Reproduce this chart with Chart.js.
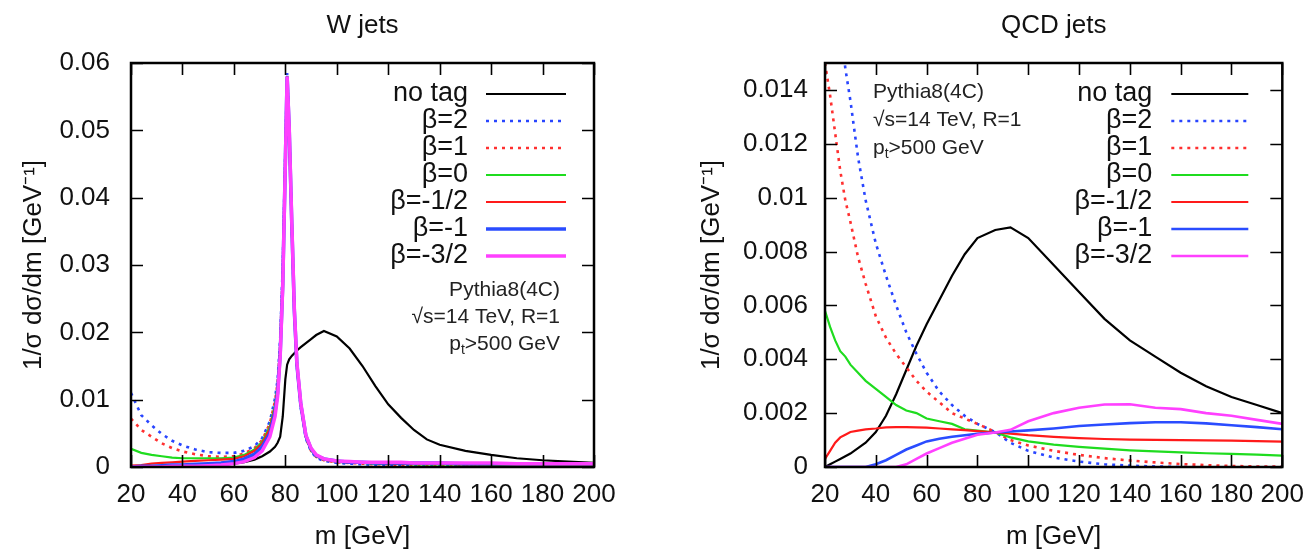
<!DOCTYPE html>
<html>
<head>
<meta charset="utf-8">
<script src="https://cdn.jsdelivr.net/npm/chart.js@4.4.1/dist/chart.umd.min.js"></script>
<style>
	body { margin: 0; background: #fff; width: 1316px; height: 551px; overflow: hidden; position: relative; }
	.box { position: absolute; top: 0; height: 551px; }
	#wbox { left: 0; width: 640px; }
	#qbox { left: 660px; width: 656px; }
</style>
</head>
<body>
<div class="box" id="wbox"><canvas id="wjets" width="640" height="551"></canvas></div>
<div class="box" id="qbox"><canvas id="qcd" width="656" height="551"></canvas></div>
<script>
// series names (legend order)
var seriesNames = ['no tag', 'β=2', 'β=1', 'β=0', 'β=-1/2', 'β=-1', 'β=-3/2'];

// W jets: mass grid [GeV] and 1/sigma dsigma/dm values
var wMass   = [20,24,28,32,36,40,45,50,55,60,64,68,71,74,76,77,78,79,80,80.7,81.5,82.5,83.5,84.5,86,88,90,92,95,100,105,110,115,120,125,130,135,140,150,160,170,180,190,200];
var wNoTag  = [0,0,0,0.00005,0.0001,0.0001,0.00015,0.0002,0.0003,0.0005,0.0007,0.0011,0.0016,0.0023,0.003,0.0036,0.0045,0.0075,0.013,0.0152,0.016,0.0165,0.0169,0.0173,0.0178,0.0184,0.019,0.0196,0.0202,0.0194,0.0176,0.015,0.012,0.0093,0.0073,0.0055,0.0041,0.0033,0.0024,0.0018,0.0013,0.001,0.0008,0.0006];
var wB2     = [0.011,0.0077,0.0062,0.0049,0.0039,0.0032,0.0026,0.0022,0.0021,0.0021,0.0024,0.0031,0.0043,0.0068,0.0102,0.013,0.019,0.03,0.047,0.0585,0.05,0.036,0.023,0.015,0.0088,0.0042,0.0023,0.0014,0.0009,0.0006,0.0005,0.0004,0.0003,0.0003,0.0002,0.0002,0.0002,0.0001,0.0001,0.0001,0.0001,0.0001,0.0001,0.0001];
var wB1     = [0.0072,0.0055,0.0045,0.0035,0.0028,0.0023,0.0019,0.0016,0.0015,0.0016,0.002,0.0028,0.004,0.0065,0.0098,0.0125,0.018,0.029,0.046,0.058,0.05,0.036,0.023,0.015,0.009,0.0043,0.0024,0.0015,0.001,0.0007,0.0006,0.0005,0.0004,0.0004,0.0003,0.0003,0.0003,0.0002,0.0002,0.0002,0.0002,0.0001,0.0001,0.0001];
var wB0     = [0.0027,0.0021,0.0018,0.0016,0.0014,0.0013,0.0013,0.0013,0.0013,0.0014,0.0018,0.0026,0.0037,0.006,0.0092,0.012,0.0175,0.028,0.046,0.058,0.05,0.036,0.023,0.015,0.0091,0.0044,0.0025,0.0016,0.0011,0.0008,0.0007,0.0006,0.0005,0.0005,0.0005,0.0004,0.0004,0.0004,0.0004,0.0003,0.0003,0.0003,0.0003,0.0003];
var wBm05   = [0.0002,0.0003,0.0005,0.0006,0.0007,0.0008,0.0009,0.001,0.0011,0.0012,0.0016,0.0024,0.0035,0.0057,0.0088,0.0115,0.017,0.0275,0.0455,0.058,0.05,0.036,0.023,0.015,0.0092,0.0045,0.0026,0.0017,0.0011,0.0008,0.0007,0.0006,0.0006,0.0005,0.0005,0.0005,0.0005,0.0005,0.0004,0.0004,0.0004,0.0004,0.0004,0.0004];
var wBm1    = [0,0.0001,0.0001,0.0002,0.0003,0.0003,0.0004,0.0005,0.0006,0.0008,0.0012,0.0019,0.003,0.005,0.0082,0.011,0.0168,0.0272,0.0452,0.058,0.0502,0.0362,0.0232,0.0152,0.0093,0.0046,0.0027,0.0017,0.0012,0.0009,0.0007,0.0007,0.0006,0.0006,0.0006,0.0006,0.0006,0.0006,0.0005,0.0005,0.0005,0.0005,0.0005,0.0005];
var wBm15   = [0,0,0,0,0.0001,0.0001,0.0001,0.0002,0.0003,0.0005,0.0008,0.0014,0.0024,0.0045,0.0075,0.0105,0.0165,0.027,0.045,0.058,0.0505,0.0365,0.0235,0.0155,0.0095,0.0047,0.0028,0.0018,0.0012,0.0009,0.0008,0.0007,0.0007,0.0007,0.0007,0.0006,0.0006,0.0006,0.0006,0.0006,0.0005,0.0005,0.0005,0.0005];

// QCD jets
var qMass   = [20,22,24,26,28,30,33,36,40,44,48,52,56,60,65,70,75,80,87,93,100,110,120,130,140,150,160,170,180,190,200];
var qNoTag  = [0,0.0001,0.0002,0.0003,0.0004,0.0005,0.0007,0.0009,0.0013,0.0019,0.0027,0.0036,0.0045,0.0053,0.0062,0.0071,0.0079,0.0085,0.0088,0.0089,0.0085,0.0075,0.0065,0.0055,0.0047,0.0041,0.0035,0.003,0.0026,0.0023,0.002];
var qB2     = [0.022,0.02,0.018,0.0165,0.0148,0.0136,0.0115,0.0099,0.0083,0.0071,0.006,0.005,0.0042,0.0035,0.0028,0.0023,0.0019,0.0016,0.0013,0.0009,0.0006,0.00035,0.0002,0.0001,0.00005,0.00002,0,0,0,0,0];
var qB1     = [0.015,0.0138,0.0124,0.011,0.0099,0.0091,0.0078,0.0068,0.0056,0.0048,0.0042,0.0037,0.0032,0.0028,0.0024,0.002,0.0018,0.0016,0.0013,0.001,0.0008,0.0006,0.00045,0.00033,0.00024,0.00017,0.00011,0.00007,0.00004,0.00002,0.00001];
var qB0     = [0.0058,0.0052,0.0047,0.0043,0.0041,0.0038,0.0035,0.0032,0.0029,0.0026,0.0023,0.0021,0.002,0.0018,0.0017,0.0016,0.0014,0.00135,0.00128,0.0011,0.00095,0.00083,0.00075,0.00068,0.00062,0.00058,0.00054,0.00051,0.00049,0.00046,0.00042];
var qBm05   = [0.0003,0.0006,0.0009,0.0011,0.0012,0.0013,0.00135,0.0014,0.00143,0.00147,0.00148,0.00148,0.00147,0.00146,0.00143,0.0014,0.00137,0.00133,0.00128,0.00124,0.00118,0.00112,0.00107,0.00104,0.00102,0.00101,0.001,0.00099,0.00098,0.00096,0.00094];
var qBm1    = [0,0,0,0,0,0,0,0,0.0001,0.00025,0.00045,0.00065,0.0008,0.00095,0.00105,0.00112,0.00118,0.00123,0.00128,0.00132,0.00136,0.00143,0.00152,0.00158,0.00163,0.00166,0.00166,0.00162,0.00155,0.00148,0.0014];
var qBm15   = [0,0,0,0,0,0,0,0,0,0,0,0.0001,0.0003,0.0005,0.0007,0.0009,0.00105,0.0012,0.00128,0.00138,0.0017,0.002,0.0022,0.00232,0.00233,0.0022,0.00215,0.002,0.0019,0.00175,0.0016];

// axis ticks
var massTicks = { min: 20, max: 200, step: 20 };
var wTicks = { min: 0, max: 0.06, step: 0.01 };
var qTicks = { min: 0, max: 0.015, step: 0.002 };

var noteLines = ['Pythia8(4C)', '√s=14 TeV, R=1', 'pt>500 GeV'];

var styles = [
	{ color: '#000000', width: 2.2, dash: [] },
	{ color: '#2845ff', width: 2.6, dash: [3, 5] },
	{ color: '#ff3030', width: 2.6, dash: [3, 5] },
	{ color: '#1fdc1f', width: 2.2, dash: [] },
	{ color: '#ff1a1a', width: 2.2, dash: [] },
	{ color: '#2a4cff', width: 2.6, dash: [] },
	{ color: '#ff40ff', width: 2.6, dash: [] }
];

var FONT = "'Liberation Sans', Arial, sans-serif";

function makeSets(mass, lists, thick) {
	return lists.map(function(vals, i) {
		var s = styles[i];
		return {
			label: seriesNames[i],
			data: vals.map(function(v, k) { return { x: mass[k], y: v }; }),
			borderColor: s.color,
			borderWidth: (thick && i >= 5) ? 3.5 : s.width,
			borderDash: s.dash,
			borderCapStyle: 'butt',
			pointRadius: 0,
			fill: false,
			tension: 0,
			order: 6 - i
		};
	});
}

// draws the gnuplot-like frame, inner ticks, title, key and note
var gnuPlot = {
	id: 'gnuPlot',
	afterDatasetsDraw: function(chart, args, opt) {
		var ctx = chart.ctx, a = chart.chartArea;
		var xs = chart.scales.x, ys = chart.scales.y;
		ctx.save();

		ctx.strokeStyle = '#000';
		ctx.lineWidth = 1.6;
		ctx.setLineDash([]);
		ctx.beginPath();
		xs.ticks.forEach(function(t) {
			var px = Math.round(xs.getPixelForValue(t.value)) + 0.5;
			ctx.moveTo(px, a.bottom); ctx.lineTo(px, a.bottom - 12);
			ctx.moveTo(px, a.top); ctx.lineTo(px, a.top + 12);
		});
		ys.ticks.forEach(function(t) {
			var py = Math.round(ys.getPixelForValue(t.value)) + 0.5;
			ctx.moveTo(a.left, py); ctx.lineTo(a.left + 12, py);
			ctx.moveTo(a.right, py); ctx.lineTo(a.right - 12, py);
		});
		ctx.stroke();
		ctx.lineWidth = 2.5;
		ctx.strokeRect(a.left, a.top, a.right - a.left, a.bottom - a.top);

		// title
		ctx.fillStyle = '#111';
		ctx.font = '26px ' + FONT;
		ctx.textAlign = 'center';
		ctx.textBaseline = 'middle';
		ctx.fillText(opt.title, (a.left + a.right) / 2, 26);

		// key
		chart.data.datasets.forEach(function(ds, i) {
			var y = a.top + 31 + i * 27;
			ctx.font = '27px ' + FONT;
			ctx.textAlign = 'right';
			ctx.fillStyle = '#111';
			ctx.fillText(ds.label, a.right - opt.keyText, y);
			ctx.strokeStyle = ds.borderColor;
			ctx.lineWidth = ds.borderWidth;
			ctx.setLineDash(ds.borderDash);
			ctx.beginPath();
			ctx.moveTo(a.right - opt.keyFrom, y);
			ctx.lineTo(a.right - opt.keyTo, y);
			ctx.stroke();
		});
		ctx.setLineDash([]);

		// note
		ctx.fillStyle = '#222';
		ctx.textAlign = 'left';
		noteLines.forEach(function(line, i) {
			var y = a.top + opt.noteTop + i * opt.noteStep;
			var parts;
			if (line.indexOf('pt') === 0) {
				parts = [['p', 21, 0], ['t', 14, 6], [line.slice(2), 21, 0]];
			} else {
				parts = [[line, 21, 0]];
			}
			var w = 0;
			parts.forEach(function(p) { ctx.font = p[1] + 'px ' + FONT; w += ctx.measureText(p[0]).width; });
			var x = opt.noteAlign === 'right' ? a.right - opt.noteX - w : a.left + opt.noteX;
			parts.forEach(function(p) {
				ctx.font = p[1] + 'px ' + FONT;
				ctx.fillText(p[0], x, y + p[2]);
				x += ctx.measureText(p[0]).width;
			});
		});
		ctx.restore();
	}
};

function makeChart(id, mass, lists, yt, yWidth, padRight, yTitlePad, yTickPad, thick, gnu) {
	return new Chart(document.getElementById(id), {
		type: 'line',
		data: { datasets: makeSets(mass, lists, thick) },
		options: {
			responsive: false,
			animation: false,
			layout: { padding: { left: 0, top: 63, right: padRight, bottom: 0 } },
			plugins: {
				legend: { display: false },
				tooltip: { enabled: false },
				gnuPlot: gnu
			},
			scales: {
				x: {
					type: 'linear',
					min: massTicks.min,
					max: massTicks.max,
					grid: { display: false, drawTicks: false },
					border: { display: false },
					ticks: { stepSize: massTicks.step, color: '#111', padding: 12, maxRotation: 0, font: { family: FONT, size: 26 } },
					title: { display: true, text: 'm [GeV]', color: '#111', font: { family: FONT, size: 26, lineHeight: 1 }, padding: { top: 0, bottom: 1 } },
					afterFit: function(s) { s.height = 84; }
				},
				y: {
					type: 'linear',
					min: yt.min,
					max: yt.max,
					grid: { display: false, drawTicks: false },
					border: { display: false },
					ticks: {
						stepSize: yt.step,
						includeBounds: false,
						color: '#111',
						padding: yTickPad,
						font: { family: FONT, size: 26 },
						callback: function(v) { return v === 0 ? '0' : String(parseFloat(v.toFixed(4))); }
					},
					title: { display: true, text: '1/σ dσ/dm [GeV⁻¹]', color: '#111', font: { family: FONT, size: 26, lineHeight: 1 }, padding: { top: yTitlePad, bottom: 0 } },
					afterFit: function(s) { s.width = yWidth; }
				}
			}
		},
		plugins: [gnuPlot]
	});
}

makeChart('wjets', wMass, [wNoTag, wB2, wB1, wB0, wBm05, wBm1, wBm15], wTicks, 131, 46, 21, 21, true,
	{ title: 'W jets', keyText: 126, keyFrom: 108, keyTo: 28, noteAlign: 'right', noteX: 34, noteTop: 227, noteStep: 27 });

makeChart('qcd', qMass, [qNoTag, qB2, qB1, qB0, qBm05, qBm1, qBm15], qTicks, 165, 26, 39, 17, false,
	{ title: 'QCD jets', keyText: 130, keyFrom: 111, keyTo: 34, noteAlign: 'left', noteX: 48, noteTop: 29, noteStep: 28 });
</script>
</body>
</html>
